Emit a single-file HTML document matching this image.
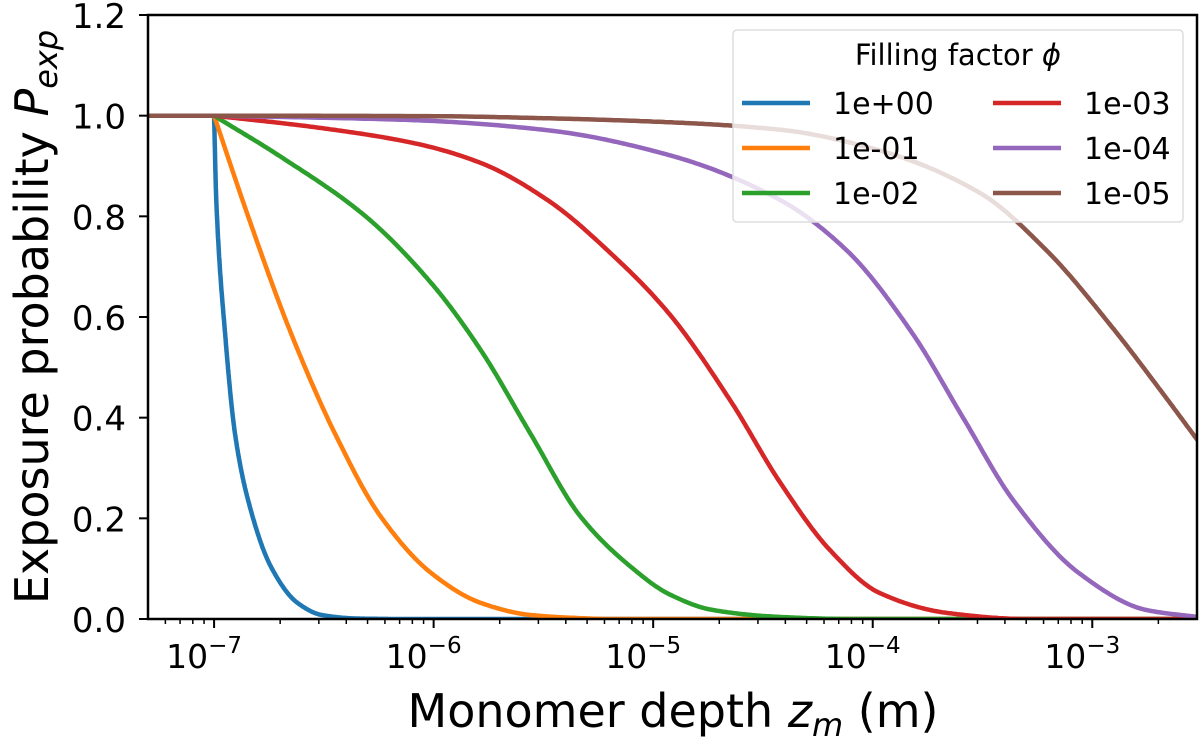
<!DOCTYPE html>
<html><head><meta charset="utf-8"><style>
body{margin:0;background:#fff}
svg text{font-family:"DejaVu Sans","Liberation Sans",sans-serif;fill:#000}
</style></head><body>
<svg id="chart" width="1200" height="739" viewBox="0 0 1200 739" xmlns="http://www.w3.org/2000/svg"></svg>
<script>
// Data: log10(depth in m) and exposure probability
const seriesNames=["1e+00","1e-01","1e-02","1e-03","1e-04","1e-05"];
const seriesColors=["#1f77b4","#ff7f0e","#2ca02c","#d62728","#9467bd","#8c564b"];
const blueLogZ=[-7.3,-7.0,-6.99,-6.95,-6.905,-6.845,-6.74,-6.62,-6.51,-6.35,-6.15,-2.52];
const blueP=[1,1,0.832,0.568,0.369,0.236,0.103,0.032,0.008,0.001,0,0];
const orangeLogZ=[-7.3,-7.0,-6.845,-6.65,-6.45,-6.24,-6.01,-5.785,-5.56,-5.35,-5.2,-2.52];
const orangeP=[1,1,0.80,0.568,0.369,0.203,0.091,0.032,0.008,0.002,0,0];
const greenLogZ=[-7.3,-7.0,-6.695,-6.31,-6.01,-5.785,-5.56,-5.33,-5.10,-4.93,-4.73,-4.42,-4.1,-2.52];
const greenP=[1,1,0.918,0.80,0.667,0.534,0.369,0.203,0.103,0.05,0.018,0.004,0,0];
const redLogZ=[-7.3,-7.0,-6.54,-6.085,-5.785,-5.48,-5.175,-4.93,-4.65,-4.42,-4.195,-3.97,-3.66,-3.3,-2.52];
const redP=[1,1,0.977,0.945,0.906,0.832,0.719,0.608,0.435,0.27,0.137,0.052,0.012,0,0];
const purpleLogZ=[-7.3,-7.0,-6.085,-5.48,-4.93,-4.42,-4.12,-3.82,-3.59,-3.36,-3.06,-2.755,-2.52];
const purpleP=[1,1,0.991,0.971,0.922,0.832,0.733,0.568,0.401,0.236,0.091,0.018,0.004];
const brownLogZ=[-7.3,-7.0,-6.0,-5.5,-4.93,-4.42,-3.97,-3.51,-3.21,-2.91,-2.68,-2.52];
const brownP=[1,1,0.999,0.995,0.987,0.972,0.931,0.846,0.733,0.58,0.449,0.355];
const xTickExps=[-7,-6,-5,-4,-3];
const yTicks=[0.0,0.2,0.4,0.6,0.8,1.0,1.2];

const NS="http://www.w3.org/2000/svg";
const svg=document.getElementById('chart');
const L=148,R=1197,T=15,B=619;
const xMin=-7.301,xMax=-2.523;
function sx(lz){return L+(lz-xMin)/(xMax-xMin)*(R-L);}
function sy(p){return B-(p/1.2)*(B-T);}
function mk(tag,attrs,parent){const e=document.createElementNS(NS,tag);for(const k in attrs)e.setAttribute(k,attrs[k]);(parent||svg).appendChild(e);return e;}

const defs=mk('defs',{});
const cp=mk('clipPath',{id:'clip'},defs);mk('rect',{x:L,y:T,width:R-L,height:B-T},cp);

const plot=mk('g',{'clip-path':'url(#clip)'});


const allX=[blueLogZ,orangeLogZ,greenLogZ,redLogZ,purpleLogZ,brownLogZ];
const allY=[blueP,orangeP,greenP,redP,purpleP,brownP];
function monotonePath(xs,ys){
  const n=xs.length,d=[],m=new Array(n).fill(0);
  for(let i=0;i<n-1;i++)d.push((ys[i+1]-ys[i])/(xs[i+1]-xs[i]));
  m[0]=d[0];m[n-1]=d[n-2];
  for(let i=1;i<n-1;i++){
    if(d[i-1]*d[i]<=0)m[i]=0;
    else{const h0=xs[i]-xs[i-1],h1=xs[i+1]-xs[i];const w1=2*h1+h0,w2=h1+2*h0;m[i]=(w1+w2)/(w1/d[i-1]+w2/d[i]);}
  }
  let path='';
  for(let i=0;i<n-1;i++){
    const h=xs[i+1]-xs[i];
    let m0=m[i],m1=m[i+1];
    if(i===0){m0=0;m1=0;}
    if(i===1){m0=d[1];}
    const steps=40;
    for(let k=0;k<=steps;k++){
      if(i>0&&k===0)continue;
      const t=k/steps,t2=t*t,t3=t2*t;
      const y=(2*t3-3*t2+1)*ys[i]+(t3-2*t2+t)*h*m0+(-2*t3+3*t2)*ys[i+1]+(t3-t2)*h*m1;
      const x=xs[i]+t*h;
      path+=(path?' L':'M')+sx(x).toFixed(1)+','+sy(Math.max(0,Math.min(1,y))).toFixed(1);
    }
  }
  return path;
}
for(let s=0;s<6;s++){
  const p=mk('path',{d:monotonePath(allX[s],allY[s]),fill:'none',stroke:seriesColors[s],'stroke-width':4.5,'stroke-linejoin':'round'},plot);
  
  
}

const frame=mk('rect',{x:L,y:T,width:R-L,height:B-T,fill:'none',stroke:'#000','stroke-width':2.5});



yTicks.forEach(v=>{
  const y=sy(v);
  mk('line',{x1:L-9,x2:L,y1:y,y2:y,stroke:'#000','stroke-width':2});
  const t=mk('text',{x:L-22,y:y+13,'text-anchor':'end','font-size':34});
  t.textContent=v.toFixed(1);
  
  
});
xTickExps.forEach(e=>{
  const x=sx(e);
  mk('line',{x1:x,x2:x,y1:B,y2:B+9,stroke:'#000','stroke-width':2});
  const t=mk('text',{x:x-10,y:B+49,'text-anchor':'middle','font-size':33});
  t.innerHTML='10<tspan dy="-15" font-size="23">−'+(-e)+'</tspan>';
  
  
});
for(let e=-8;e<=-3;e++){for(let m=2;m<=9;m++){const lz=e+Math.log10(m);if(lz<xMin||lz>xMax)continue;const x=sx(lz);mk('line',{x1:x,x2:x,y1:B,y2:B+5,stroke:'#000','stroke-width':1.5});}}

const xt=mk('text',{x:673,y:727,'text-anchor':'middle','font-size':46});
xt.innerHTML='Monomer depth <tspan font-style="italic">z</tspan><tspan font-style="italic" font-size="32" dy="9">m</tspan><tspan dy="-9"> (m)</tspan>';


const yt=mk('text',{x:0,y:0,'text-anchor':'middle','font-size':46,transform:'translate(48,317) rotate(-90)'});
yt.innerHTML='Exposure probability <tspan font-style="italic">P</tspan><tspan font-style="italic" font-size="32" dy="9">exp</tspan>';



const lg=mk('g',{});


mk('rect',{x:733,y:30,width:450,height:192,rx:4,fill:'rgba(255,255,255,0.8)',stroke:'#ddd','stroke-width':1.5},lg);
const lt=mk('text',{x:958,y:65,'text-anchor':'middle','font-size':29},lg);
lt.innerHTML='Filling factor <tspan font-style="italic">ϕ</tspan>';


for(let s=0;s<6;s++){
  const col=Math.floor(s/3),row=s%3;
  const lx=742+col*251,ly=103+row*45;
  const g=mk('g',{},lg);
  
  
  mk('line',{x1:lx,x2:lx+68,y1:ly,y2:ly,stroke:seriesColors[s],'stroke-width':4.5},g);
  const t=mk('text',{x:lx+91,y:ly+11,'font-size':30},g);
  t.textContent=seriesNames[s];
}
</script>
</body></html>
